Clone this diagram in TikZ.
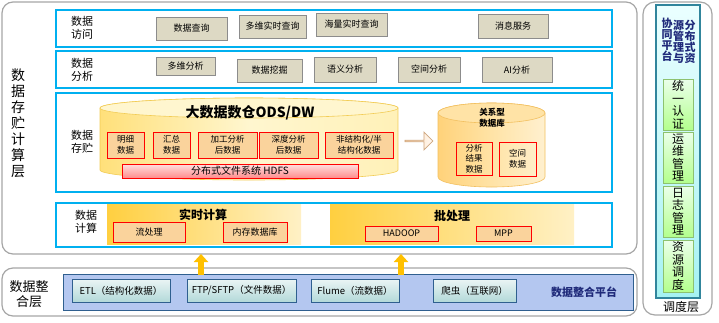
\documentclass[tikz,border=0pt]{standalone}
\usepackage{fontspec}
\setmainfont{Noto Sans CJK SC}
\usetikzlibrary{shapes.arrows,arrows.meta}
\definecolor{cyanB}{HTML}{00B0F0}
\definecolor{outerG}{HTML}{A6A6A6}
\definecolor{tanF}{HTML}{DDD9C4}
\definecolor{tanD}{HTML}{8C8C8C}
\definecolor{orF}{HTML}{FAD39C}
\definecolor{arrO}{HTML}{FFC000}
\definecolor{intF}{HTML}{B4C7F0}
\definecolor{intD}{HTML}{2F5F8F}
\definecolor{tealD}{HTML}{31859C}
\definecolor{grnD}{HTML}{8DC26F}
\definecolor{navy}{HTML}{1F2A7A}
\definecolor{cylL}{HTML}{FFE07A}
\definecolor{cylM}{HTML}{FFF6CF}
\definecolor{cylR}{HTML}{FFF1B8}
\definecolor{cylE}{HTML}{F2CC55}
\definecolor{rdbL}{HTML}{FFD27A}
\definecolor{rdbM}{HTML}{FFE3A6}
\definecolor{rdbR}{HTML}{FFF0CF}
\definecolor{rdbE}{HTML}{F2C060}
\begin{document}
\begin{tikzpicture}[x=1pt,y=-1pt,
  outerbox/.style={draw=outerG, line width=1.2pt, rounded corners=11pt, fill=white},
  rowbox/.style={draw=cyanB, line width=2pt, fill=white},
  rowlabel/.style={align=center, font=\fontsize{11}{13}\selectfont},
  tanbox/.style={draw=tanD, fill=tanF, line width=0.8pt, inner sep=0pt, font=\fontsize{9}{11}\selectfont},
  redbox/.style={draw=red, fill=orF, line width=0.9pt, inner sep=0pt, align=center, font=\fontsize{8.5}{10.5}\selectfont},
  panel/.style={inner sep=0pt, left color=#1, right color=#1!30!white},
  intbox/.style={draw=intD, line width=0.8pt, top color=white!92!teal, bottom color=white!70!teal, inner sep=0pt, font=\fontsize{9.5}{11}\selectfont},
  grnbox/.style={draw=grnD, line width=0.9pt, top color=green!8!white, bottom color=green!35!white!85!yellow, inner sep=0pt, align=center, minimum width=30, font=\fontsize{12}{12.5}\selectfont},
  uparrow/.style={draw=arrO, line width=5.5pt, -{Triangle[width=14pt,length=8pt]}}
]
\useasboundingbox (0,0) rectangle (719,322);

% ===== outer containers =====
\draw[outerbox] (2,2) rectangle (637,254);
\draw[outerbox] (2,268) rectangle (637,316);
\draw[outerbox, rounded corners=12pt] (643,2) rectangle (712,315);

\node[align=center, font=\fontsize{14}{16}\selectfont] (lblstore) at (18,123.5) {数\\据\\存\\贮\\计\\算\\层};

% ===== data access row =====
\draw[rowbox] (56,10) rectangle (612,47);
\node[rowlabel] (lblaccess) at (82,28) {数据\\访问};
\node[tanbox, minimum width=71, minimum height=23] (q1) at (191.5,28.5) {数据查询};
\node[tanbox, minimum width=67, minimum height=23] (q2) at (272.5,26.5) {多维实时查询};
\node[tanbox, minimum width=71, minimum height=23] (q3) at (351.5,24.5) {海量实时查询};
\node[tanbox, minimum width=70, minimum height=24] (q4) at (513,26) {消息服务};

% ===== data analysis row =====
\draw[rowbox] (56,51) rectangle (612,88);
\node[rowlabel] (lblana) at (82,70) {数据\\分析};
\node[tanbox, minimum width=59, minimum height=18] (a1) at (185.5,66) {多维分析};
\node[tanbox, minimum width=65, minimum height=23] (a2) at (269.5,70.5) {数据挖掘};
\node[tanbox, minimum width=62, minimum height=25] (a3) at (345,69.5) {语义分析};
\node[tanbox, minimum width=62, minimum height=25] (a4) at (429,69.5) {空间分析};
\node[tanbox, minimum width=70, minimum height=25] (a5) at (517,70) {AI分析};

% ===== data storage row =====
\draw[rowbox] (56,93) rectangle (612,192);
\node[rowlabel] (lblsto) at (82,142) {数据\\存贮};

% big cylinder
\path[left color=cylL, right color=cylR, middle color=cylM, draw=cylE, line width=0.6pt]
  (100,108) -- (100,170) arc[start angle=180, end angle=0, x radius=149, y radius=10]
  -- (398,108) arc[start angle=0, end angle=-180, x radius=149, y radius=10] -- cycle;
\draw[fill=cylM, draw=cylE, line width=0.6pt] (249,108) ellipse [x radius=149, y radius=10];
\node[font=\bfseries\fontsize{14}{16}\selectfont] (dwtitle) at (250,113) {大数据数仓ODS/DW};

\node[redbox, minimum width=37, minimum height=26] (s1) at (125.5,145) {明细\\数据};
\node[redbox, minimum width=37, minimum height=26] (s2) at (171.5,145) {汇总\\数据};
\node[redbox, minimum width=59, minimum height=26] (s3) at (227.5,145) {加工分析\\后数据};
\node[redbox, minimum width=59, minimum height=26] (s4) at (288.5,145) {深度分析\\后数据};
\node[redbox, minimum width=68, minimum height=26] (s5) at (359,145) {非结构化/半\\结构化数据};
\node[draw=red, line width=0.9pt, top color=red!12!white, bottom color=red!45!white, minimum width=236, minimum height=14, inner sep=0pt, font=\fontsize{10}{12}\selectfont] (hdfs) at (240,171) {分布式文件系统 HDFS};

% hollow arrow
\node[single arrow, single arrow head extend=3.5pt, minimum height=28, minimum width=18, inner sep=0pt,
  draw=orange!45!gray!70, line width=0.7pt, left color=orange!30!white, right color=orange!5!white] (harrow) at (418.5,141) {};

% relational cylinder
\path[left color=rdbL, right color=rdbR, middle color=rdbM, draw=rdbE, line width=0.6pt]
  (438,113) -- (438,177) arc[start angle=180, end angle=0, x radius=53.5, y radius=10]
  -- (545,113) arc[start angle=0, end angle=-180, x radius=53.5, y radius=10] -- cycle;
\draw[fill=rdbM, draw=rdbE, line width=0.6pt] (491.5,113) ellipse [x radius=53.5, y radius=10];
\node[align=center, font=\bfseries\fontsize{8.5}{11}\selectfont] (rdbtitle) at (492,118) {关系型\\数据库};
\node[redbox, fill=none, minimum width=36, minimum height=33] (r1) at (474,158.5) {分析\\结果\\数据};
\node[redbox, fill=none, minimum width=37, minimum height=34] (r2) at (517.5,159) {空间\\数据};

% ===== data compute row =====
\draw[rowbox] (56,203) rectangle (612,247);
\node[rowlabel] (lblcomp) at (86,222) {数据\\计算};
\node[panel=orange!50!yellow!75!white, minimum width=194, minimum height=40] (rt) at (204,224.5) {};
\node[font=\bfseries\fontsize{12}{14}\selectfont] (rttitle) at (203,215) {实时计算};
\node[redbox, minimum width=72, minimum height=20, font=\fontsize{9}{11}\selectfont] (c1) at (149,232) {流处理};
\node[redbox, minimum width=64, minimum height=20, font=\fontsize{9}{11}\selectfont] (c2) at (255,232) {内存数据库};
\node[panel=orange!50!yellow!75!white, minimum width=244, minimum height=40] (bt) at (452,224.5) {};
\node[font=\bfseries\fontsize{12}{14}\selectfont] (bttitle) at (452,216) {批处理};
\node[redbox, minimum width=73, minimum height=15, font=\fontsize{9}{11}\selectfont] (c3) at (401.5,233.5) {HADOOP};
\node[redbox, minimum width=55, minimum height=15, font=\fontsize{9}{11}\selectfont] (c4) at (503.5,233.5) {MPP};

% ===== data integration layer =====
\node[align=center, font=\fontsize{13}{15}\selectfont] (lblint) at (29,294) {数据整\\合层};
\node[draw=intD, line width=0.8pt, fill=intF, minimum width=570, minimum height=36, inner sep=0pt] (intp) at (348,292) {};
\node[intbox, minimum width=98, minimum height=23] (i1) at (121,290.5) {ETL（结构化数据）};
\node[intbox, minimum width=109, minimum height=23] (i2) at (241.5,290.5) {FTP/SFTP（文件数据）};
\node[intbox, minimum width=88, minimum height=23] (i3) at (355,290.5) {Flume（流数据）};
\node[intbox, minimum width=83, minimum height=23] (i4) at (474.5,290.5) {爬虫（互联网）};
\node[font=\bfseries\fontsize{11}{13}\selectfont, text=navy] (inttitle) at (584,292) {数据整合平台};

% up arrows
\coordinate (u1s) at (201,274.5); \coordinate (u1e) at (201,254);
\coordinate (u2s) at (401,274.5); \coordinate (u2e) at (401,254);
\draw[uparrow] (u1s) -- (u1e);
\draw[uparrow] (u2s) -- (u2e);

% ===== scheduling layer =====
\node[draw=tealD, line width=1.1pt, top color=cyan!8!white, bottom color=cyan!28!white!90!teal, minimum width=44, minimum height=293, inner sep=0pt] (sched) at (678,151.5) {};
\node[align=center, text=navy, font=\bfseries\fontsize{11}{11}\selectfont] (t1) at (690,41.5) {分\\布\\式\\资};
\node[align=center, text=navy, font=\bfseries\fontsize{11}{11}\selectfont] (t2) at (678.5,41.5) {源\\管\\理\\与};
\node[align=center, text=navy, font=\bfseries\fontsize{11}{11}\selectfont] (t3) at (667,40) {协\\同\\平\\台};
\node[grnbox, minimum height=51] (g1) at (678,104.5) {统\\一\\认\\证};
\node[grnbox, minimum height=51] (g2) at (678,157.5) {运\\维\\管\\理};
\node[grnbox, minimum height=51] (g3) at (678,211.5) {日\\志\\管\\理};
\node[grnbox, minimum height=52] (g4) at (678,266) {资\\源\\调\\度};
\node[font=\fontsize{12}{14}\selectfont] (lblsched) at (681,307) {调度层};
\end{tikzpicture}
\end{document}
